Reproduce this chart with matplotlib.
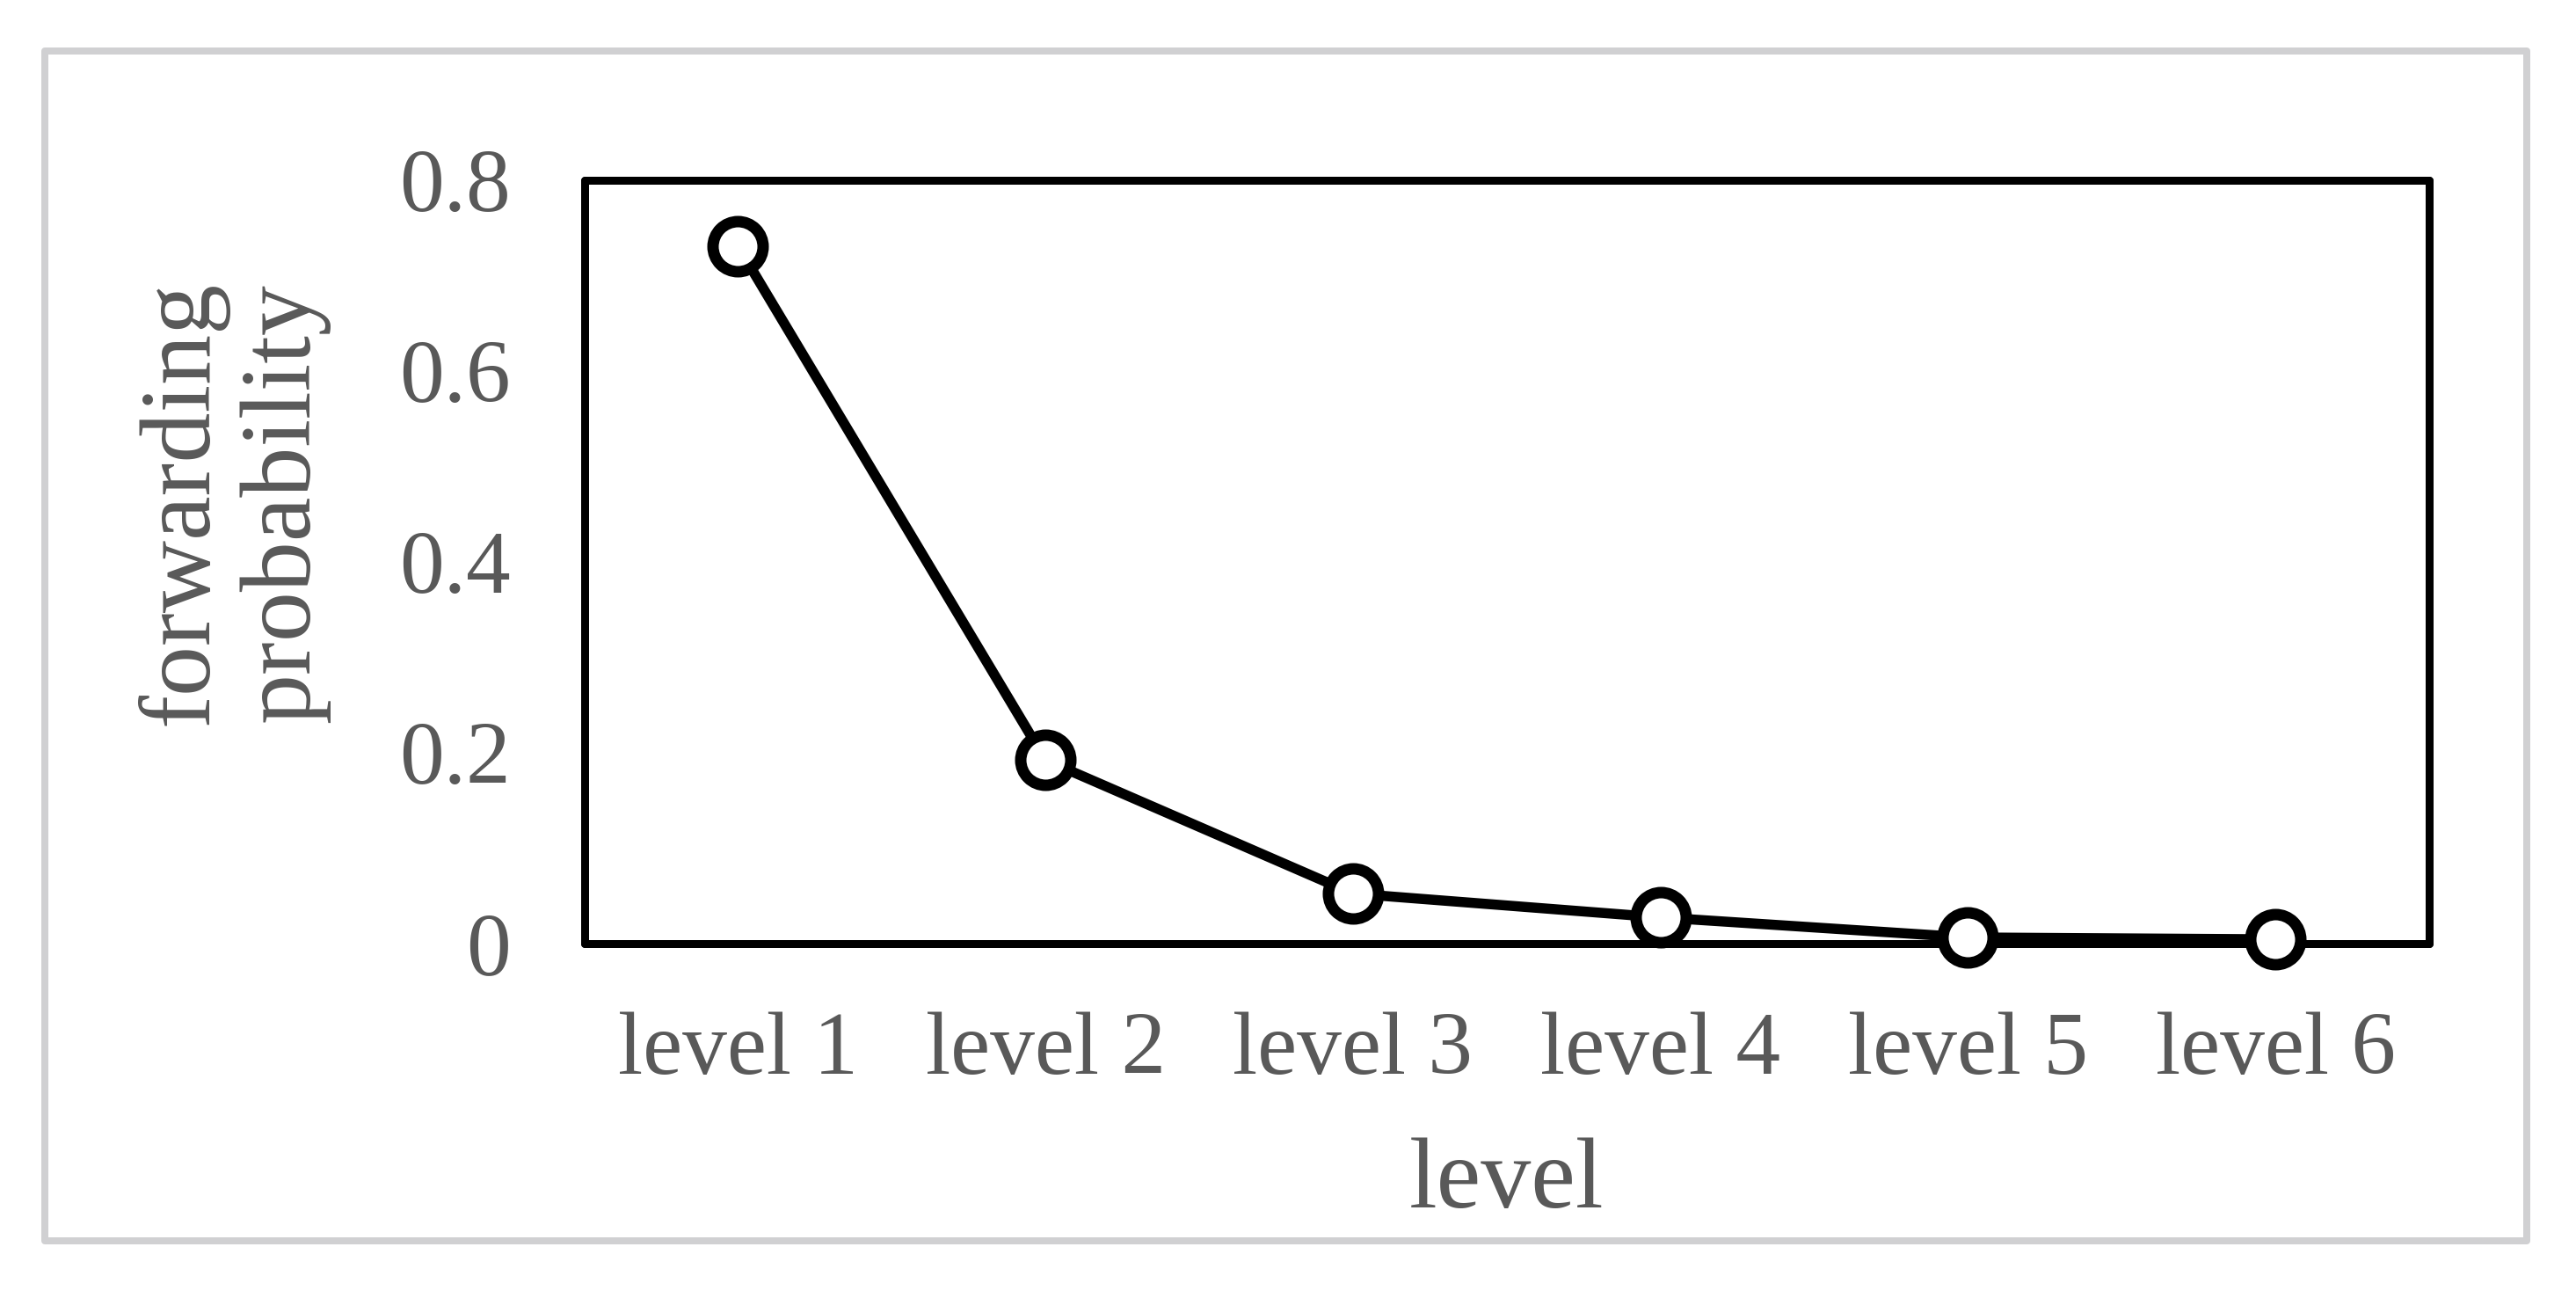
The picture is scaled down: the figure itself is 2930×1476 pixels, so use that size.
import matplotlib
matplotlib.use("Agg")
import matplotlib.pyplot as plt
from matplotlib.patches import Rectangle

categories = ["level 1", "level 2", "level 3", "level 4", "level 5", "level 6"]
probability = [0.731, 0.192, 0.052, 0.027, 0.006, 0.004]
yticks = [0, 0.2, 0.4, 0.6, 0.8]
ytick_labels = ["0", "0.2", "0.4", "0.6", "0.8"]

W, H, DPI = 2930, 1476, 200
px = 72.0 / DPI  # points per pixel

plt.rcParams['font.family'] = ['Liberation Serif', 'DejaVu Serif']
text_color = '#595959'

fig = plt.figure(figsize=(W / DPI, H / DPI), dpi=DPI)
fig.patch.set_facecolor('white')

# outer light-grey frame
fig.patches.append(Rectangle((51 / W, 1 - 1411 / H), (2874 - 51) / W, (1411 - 58) / H,
                             transform=fig.transFigure, fill=False,
                             edgecolor='#d0d0d2', linewidth=8 * px, joinstyle='round'))

ax = fig.add_axes([664.5 / W, 1 - 1072.5 / H, (2763 - 664.5) / W, (1072.5 - 205) / H])
x = list(range(len(categories)))
ax.plot(x, probability, color='black', linewidth=11.5 * px, marker='o',
        markersize=57 * px, markeredgewidth=13 * px, markerfacecolor='white',
        markeredgecolor='black', clip_on=False, zorder=3)

ax.set_xlim(-0.5, len(categories) - 0.5)
ax.set_ylim(0, 0.8)
ax.set_xticks(x)
ax.set_xticklabels(categories)
ax.set_yticks(yticks)
ax.set_yticklabels(ytick_labels)
ax.tick_params(axis='both', length=0, labelsize=36.5, labelcolor=text_color)
ax.tick_params(axis='x', pad=28)
ax.tick_params(axis='y', pad=30)
for s in ax.spines.values():
    s.set_linewidth(9 * px)
    s.set_color('black')
    s.set_capstyle('round')

fig.text(1714 / W, 1 - 1373 / H, "level", ha='center', va='baseline',
         fontsize=41, color=text_color)
fig.text(265 / W, 1 - 572 / H, "forwarding\nprobability", ha='center', va='center',
         rotation=90, fontsize=41, color=text_color, linespacing=1.15,
         multialignment='center')

fig.savefig("out.png", dpi=DPI, facecolor='white')
